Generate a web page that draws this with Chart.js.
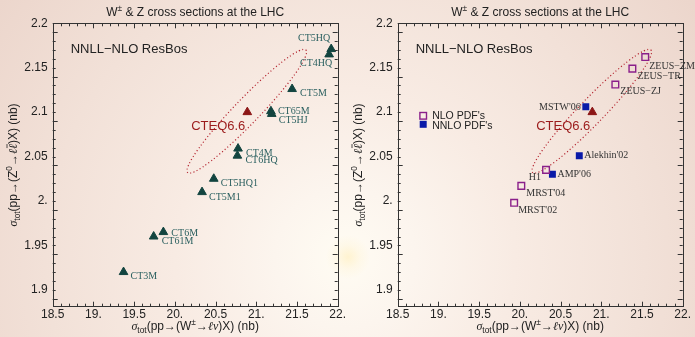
<!DOCTYPE html>
<html>
<head>
<meta charset="utf-8">
<script src="https://cdn.jsdelivr.net/npm/chart.js@4/dist/chart.umd.min.js"></script>
<style>
  html, body { margin: 0; padding: 0; }
  body {
    width: 695px; height: 337px; overflow: hidden; position: relative;
    background:
      radial-gradient(circle at 348px 257px, rgba(255,236,180,0.55) 0px, rgba(255,240,200,0.25) 12px, rgba(255,240,200,0) 22px),
      radial-gradient(circle at 345px 258px, #fffcf3 0px, #fcf5ee 70px, #f8ebe3 170px, #f2e1d8 300px, #ecd6cc 430px);
  }
  canvas { position: absolute; top: 0; }
  #left { left: 0; }
  #right { left: 345px; }
</style>
</head>
<body>
<canvas id="left" width="350" height="337"></canvas>
<canvas id="right" width="350" height="337"></canvas>
<script>
// axis ticks
const xTicks = [18.5, 19, 19.5, 20, 20.5, 21, 21.5, 22];
const xTickLabels = ['18.5', '19.', '19.5', '20.', '20.5', '21.', '21.5', '22.'];
const yTicks = [1.9, 1.95, 2, 2.05, 2.1, 2.15, 2.2];
const yTickLabels = ['1.9', '1.95', '2.', '2.05', '2.1', '2.15', '2.2'];

// left panel: CTEQ/CT sets (W cross section, Z cross section in nb)
const ctNames = ['CT5HQ', 'CT4HQ', 'CT5M', 'CT65M', 'CT5HJ', 'CT4M', 'CT6HQ', 'CT5HQ1', 'CT5M1', 'CT6M', 'CT61M', 'CT3M'];
const ctW = [21.92, 21.895, 21.44, 21.18, 21.19, 20.776, 20.768, 20.478, 20.334, 19.859, 19.74, 19.37];
const ctZ = [2.171, 2.165, 2.126, 2.101, 2.098, 2.059, 2.051, 2.025, 2.010, 1.965, 1.960, 1.920];

const cteqW = [20.89];
const cteqZ = [2.100];

// right panel: other groups
const nloNames = ['ZEUS\u2212ZM', 'ZEUS\u2212TR', 'ZEUS\u2212ZJ', 'H1', "MRST'04", "MRST'02"];
const nloW = [21.54, 21.382, 21.173, 20.322, 20.018, 19.93];
const nloZ = [2.162, 2.149, 2.131, 2.035, 2.017, 1.998];

const nnloNames = ["MSTW'06", "Alekhin'02", "AMP'06"];
const nnloW = [20.81, 20.73, 20.40];
const nnloZ = [2.106, 2.051, 2.030];

// CTEQ6.6 uncertainty ellipse (center, upper tip, minor half width in px)
const ellipse = { w: 20.884, z: 2.101, tipW: 21.61, tipZ: 2.17, minorPx: 12.5 };

// label placement: [dx, dy, align]
const labelPos = {
  'CT5HQ': [-1, -11, 'right'], 'CT4HQ': [-13, 9, 'center'], 'CT5M': [8, 4, 'left'],
  'CT65M': [7, 0, 'left'], 'CT5HJ': [7, 6, 'left'], 'CT4M': [8, 5, 'left'],
  'CT6HQ': [8, 5, 'left'], 'CT5HQ1': [7, 5, 'left'], 'CT5M1': [7, 5, 'left'],
  'CT6M': [8, 1, 'left'], 'CT61M': [8, 5, 'left'], 'CT3M': [7, 4, 'left'],
  'ZEUS\u2212ZM': [4, 9, 'left'], 'ZEUS\u2212TR': [5, 8, 'left'], 'ZEUS\u2212ZJ': [5, 7, 'left'],
  'H1': [-5, 7, 'right'], "MRST'04": [5, 7, 'left'], "MRST'02": [4, 8, 'left'],
  "MSTW'06": [-5, 1, 'right'], "Alekhin'02": [5, 0, 'left'], "AMP'06": [5, 0, 'left']
};

const SANS = '"Liberation Sans", Arial, sans-serif';
const SERIF = '"Liberation Serif", "Times New Roman", serif';
Chart.defaults.font.family = SANS;

function pts(xs, ys) { return xs.map((x, i) => ({ x: x, y: ys[i] })); }

function segFont(s, size) {
  const sz = (s.sub || s.sup) ? size * 0.7 : size;
  return (s.it ? 'italic ' : '') + sz + 'px ' + (s.it ? SERIF : SANS);
}

function drawRich(ctx, segs, cx, cy, size, rot) {
  ctx.save();
  ctx.translate(cx, cy);
  if (rot) ctx.rotate(-Math.PI / 2);
  let total = 0;
  segs.forEach(s => { ctx.font = segFont(s, size); s.w = ctx.measureText(s.t).width; total += s.w; });
  let x = -total / 2;
  ctx.fillStyle = '#222';
  ctx.strokeStyle = '#222';
  ctx.textBaseline = 'alphabetic';
  ctx.textAlign = 'left';
  const base = size * 0.35;
  segs.forEach(s => {
    ctx.font = segFont(s, size);
    let y = base;
    if (s.sub) y += size * 0.25;
    if (s.sup) y -= size * 0.4;
    ctx.fillText(s.t, x, y);
    if (s.bar) {
      ctx.lineWidth = 0.8;
      ctx.beginPath();
      ctx.moveTo(x + 1, base - size * 0.85);
      ctx.lineTo(x + s.w, base - size * 0.85);
      ctx.stroke();
    }
    x += s.w;
  });
  ctx.restore();
}

const titleSegs = [{ t: 'W' }, { t: '\u00b1', sup: 1 }, { t: ' & Z cross sections at the LHC' }];
const xTitleSegs = [{ t: '\u03c3', it: 1 }, { t: 'tot', sub: 1 }, { t: '(pp\u2192(W' }, { t: '\u00b1', sup: 1 },
  { t: '\u2192' }, { t: '\u2113\u03bd', it: 1 }, { t: ')X) (nb)' }];
const yTitleSegs = [{ t: '\u03c3', it: 1 }, { t: 'tot', sub: 1 }, { t: '(pp\u2192(Z' }, { t: '0', sup: 1 },
  { t: '\u2192' }, { t: '\u2113', it: 1 }, { t: '\u2113', it: 1, bar: 1 }, { t: ')X) (nb)' }];

const framePlugin = {
  id: 'frame',
  beforeDatasetsDraw(chart) {
    const ctx = chart.ctx, xs = chart.scales.x, ys = chart.scales.y;
    // ellipse
    const cx = xs.getPixelForValue(ellipse.w), cy = ys.getPixelForValue(ellipse.z);
    const tx = xs.getPixelForValue(ellipse.tipW), ty = ys.getPixelForValue(ellipse.tipZ);
    const a = Math.hypot(tx - cx, ty - cy), ang = Math.atan2(ty - cy, tx - cx);
    ctx.save();
    ctx.strokeStyle = '#b3232e';
    ctx.lineWidth = 1.2;
    ctx.setLineDash([1.1, 2.4]);
    ctx.beginPath();
    ctx.ellipse(cx, cy, a, ellipse.minorPx, ang, 0, Math.PI * 2);
    ctx.stroke();
    ctx.restore();
    ctx.save();
    ctx.fillStyle = '#9b1b1b';
    ctx.font = '13px ' + SANS;
    ctx.textAlign = 'right';
    ctx.textBaseline = 'middle';
    ctx.fillText('CTEQ6.6', xs.getPixelForValue(cteqW[0]) - 2, ys.getPixelForValue(cteqZ[0]) + 14);
    ctx.fillStyle = '#222';
    ctx.textAlign = 'left';
    ctx.fillText('NNLL\u2212NLO ResBos', chart.chartArea.left + 18, chart.chartArea.top + 26);
    ctx.restore();
  },
  afterDraw(chart) {
    const ctx = chart.ctx, a = chart.chartArea, xs = chart.scales.x, ys = chart.scales.y;
    ctx.save();
    ctx.strokeStyle = '#333';
    ctx.lineWidth = 1;
    ctx.strokeRect(Math.round(a.left) + 0.5, Math.round(a.top) + 0.5, Math.round(a.right - a.left), Math.round(a.bottom - a.top));
    ctx.beginPath();
    for (let i = 0; i <= 35; i++) {
      const v = 18.5 + i * 0.1;
      const len = (i % 5 === 0) ? 5 : 3;
      const px = Math.round(xs.getPixelForValue(v)) + 0.5;
      ctx.moveTo(px, a.bottom); ctx.lineTo(px, a.bottom - len);
      ctx.moveTo(px, a.top); ctx.lineTo(px, a.top + len);
    }
    for (let i = 0; i <= 31; i++) {
      const v = 1.89 + i * 0.01;
      const len = (i % 5 === 0) ? 5 : 3;
      const py = Math.round(ys.getPixelForValue(v)) + 0.5;
      if (py < a.top || py > a.bottom) continue;
      ctx.moveTo(a.left, py); ctx.lineTo(a.left + len, py);
      ctx.moveTo(a.right, py); ctx.lineTo(a.right - len, py);
    }
    ctx.stroke();
    ctx.restore();
    const mid = (a.left + a.right) / 2;
    drawRich(ctx, titleSegs, mid, 12, 12, false);
    drawRich(ctx, xTitleSegs, mid, 326, 12, false);
    drawRich(ctx, yTitleSegs, 13, (a.top + a.bottom) / 2, 12, true);
  }
};

const labelPlugin = {
  id: 'ptlabels',
  afterDatasetsDraw(chart) {
    const ctx = chart.ctx;
    ctx.save();
    ctx.font = '10px ' + SERIF;
    ctx.textBaseline = 'middle';
    chart.data.datasets.forEach((ds, di) => {
      if (!ds.names) return;
      const meta = chart.getDatasetMeta(di);
      ctx.fillStyle = ds.labelColor;
      meta.data.forEach((el, i) => {
        const p = labelPos[ds.names[i]];
        ctx.textAlign = p[2];
        ctx.fillText(ds.names[i], el.x + p[0], el.y + p[1]);
      });
    });
    ctx.restore();
  }
};

const legendPlugin = {
  id: 'pdfLegend',
  afterDatasetsDraw(chart) {
    if (!chart.options.plugins.pdfLegend.show) return;
    const ctx = chart.ctx, a = chart.chartArea;
    const x = a.left + 25.5, y1 = a.top + 92.5, y2 = a.top + 101;
    ctx.save();
    ctx.strokeStyle = '#8a1f8a';
    ctx.lineWidth = 1.4;
    ctx.strokeRect(x - 3.3, y1 - 3.3, 6.6, 6.6);
    ctx.fillStyle = '#0a1aa8';
    ctx.fillRect(x - 3.5, y2 - 3.5, 7, 7);
    ctx.fillStyle = '#222';
    ctx.font = '10.5px ' + SANS;
    ctx.textBaseline = 'middle';
    ctx.fillText("NLO PDF's", x + 9, y1);
    ctx.fillText("NNLO PDF's", x + 9, y2 + 1.5);
    ctx.restore();
  }
};

function makePanel(id, datasets, showLegend) {
  const canvas = document.getElementById(id);
  return new Chart(canvas.getContext('2d'), {
    type: 'scatter',
    data: { datasets: datasets },
    options: {
      responsive: false,
      animation: false,
      layout: { padding: { top: 23.3, right: canvas.width - 337.7, left: 0, bottom: 0 } },
      plugins: { legend: { display: false }, tooltip: { enabled: false }, pdfLegend: { show: showLegend } },
      scales: {
        x: {
          type: 'linear', min: 18.5, max: 22,
          grid: { display: false, drawTicks: false },
          border: { display: false },
          afterBuildTicks: s => { s.ticks = xTicks.map(v => ({ value: v })); },
          afterFit: s => { s.height = 337 - 306.7; },
          ticks: {
            autoSkip: false, maxRotation: 0, padding: 1, color: '#222',
            font: { size: 12 },
            callback: v => xTickLabels[xTicks.indexOf(v)]
          }
        },
        y: {
          type: 'linear', min: 1.881, max: 2.2,
          grid: { display: false, drawTicks: false },
          border: { display: false },
          afterBuildTicks: s => { s.ticks = yTicks.map(v => ({ value: v })); },
          afterFit: s => { s.width = 52.7; },
          ticks: {
            autoSkip: false, padding: 5, color: '#222',
            font: { size: 12 },
            callback: v => yTickLabels[yTicks.findIndex(t => Math.abs(t - v) < 1e-9)]
          }
        }
      }
    },
    plugins: [framePlugin, labelPlugin, legendPlugin]
  });
}

const cteqSet = {
  data: pts(cteqW, cteqZ), pointStyle: 'triangle', pointRadius: 5,
  backgroundColor: '#8c1616', borderColor: '#8c1616', borderWidth: 1
};

makePanel('left', [
  {
    data: pts(ctW, ctZ), names: ctNames, labelColor: '#2b6060',
    pointStyle: 'triangle', pointRadius: 5,
    backgroundColor: '#12443f', borderColor: '#12443f', borderWidth: 1
  },
  Object.assign({}, cteqSet)
], false);

makePanel('right', [
  {
    data: pts(nloW, nloZ), names: nloNames, labelColor: '#333',
    pointStyle: 'rect', pointRadius: 4.7,
    backgroundColor: 'rgba(0,0,0,0)', borderColor: '#8a1f8a', borderWidth: 1.4
  },
  {
    data: pts(nnloW, nnloZ), names: nnloNames, labelColor: '#333',
    pointStyle: 'rect', pointRadius: 4.9,
    backgroundColor: '#0a1aa8', borderColor: '#0a1aa8', borderWidth: 0
  },
  Object.assign({}, cteqSet)
], true);
</script>
</body>
</html>
